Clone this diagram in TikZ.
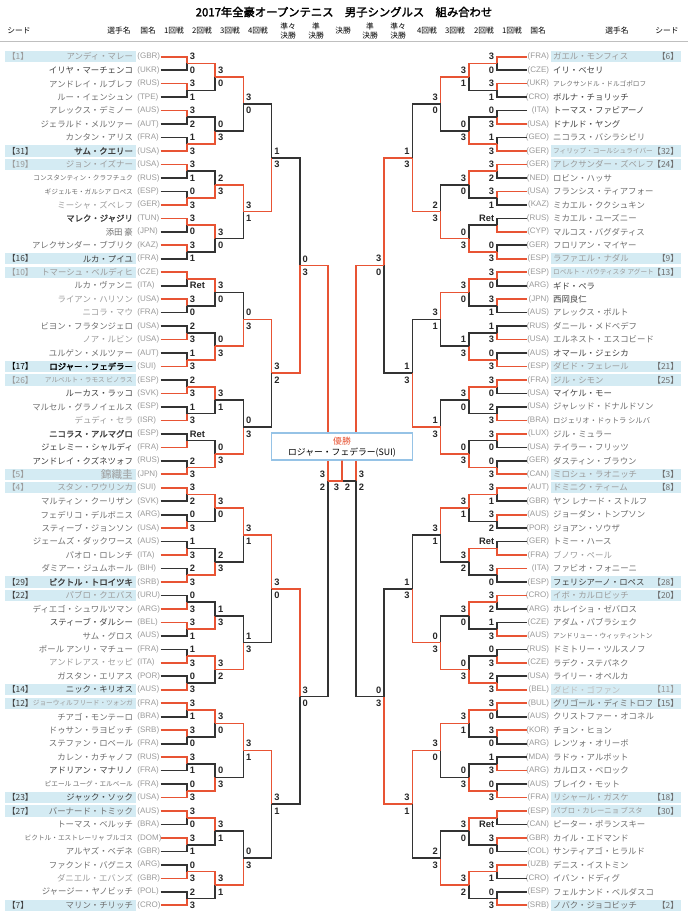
\documentclass[tikz,border=0pt]{standalone}
\usepackage{fontspec}
\setmainfont{Noto Sans CJK JP}[AutoFakeBold=2]
\newfontfamily\latinfont{Liberation Sans}
\usetikzlibrary{calc}

\definecolor{winc}{RGB}{232,84,52}
\definecolor{losec}{RGB}{51,51,51}
\definecolor{seedbg}{RGB}{212,235,243}
\definecolor{boxline}{RGB}{150,195,230}
\definecolor{cd}{RGB}{64,64,64}
\definecolor{cm}{RGB}{110,110,110}
\definecolor{cl}{RGB}{155,155,155}
\definecolor{cx}{RGB}{190,190,190}
\definecolor{ck}{RGB}{0,0,0}

% name sizes: n normal, s small, t tight, b big, k bold
\newcommand{\fszn}{\fontsize{6.3pt}{7pt}\selectfont}
\newcommand{\fszs}{\fontsize{5pt}{6pt}\selectfont}
\newcommand{\fszt}{\fontsize{5.5pt}{6pt}\selectfont}
\newcommand{\fszb}{\fontsize{8pt}{9pt}\selectfont}
\newcommand{\fszk}{\fontsize{6.3pt}{7pt}\selectfont\bfseries}

% one round of one half: side, round, x of the vertical, score anchor, score shift, winner/upper/lower
\newcommand{\drawround}[6]{%
  \foreach \w/\sA/\sB [count=\m] in {#6} {
    \pgfmathtruncatemacro{\pu}{2*\m-1}
    \pgfmathtruncatemacro{\pd}{2*\m}
    \pgfmathtruncatemacro{\pv}{#2-1}
    \pgfmathsetmacro{\ym}{\yA+((\m-1)*2^#2+(2^#2-1)/2)*\dy}
    \coordinate (#1#2-\m) at (#3,\ym);
    \ifnum\w=1 \let\wn\pu\let\ls\pd\else\let\wn\pd\let\ls\pu\fi
    \draw[bline,draw=losec] (#1\pv-\ls) -| (#1#2-\m);
    \draw[bline,draw=winc] (#1\pv-\wn) -| (#1#2-\m);
    \node[score,anchor=#4] (#1#2-\m-u) at ({#3#5},{\ym-6.7}) {\sA};
    \node[score,anchor=#4] (#1#2-\m-d) at ({#3#5},{\ym+6.7}) {\sB};
  }
}

\begin{document}
\begin{tikzpicture}[x=0.75pt,y=-0.75pt,
    bline/.style={line width=1.25pt},
    score/.style={font=\latinfont\bfseries\fontsize{7pt}{8pt}\selectfont,text=black!85,inner sep=0.8pt},
    cty/.style={font=\latinfont\fontsize{6pt}{7pt}\selectfont,text=black!40,inner sep=0.5pt},
    seedtxt/.style={font=\fontsize{6.3pt}{7pt}\selectfont,inner sep=0pt},
    hdr/.style={font=\fontsize{5.8pt}{6.3pt}\selectfont,align=center,inner sep=0pt}]
  \def\yA{56.7}   % y of the first row
  \def\dy{13.47}  % row pitch
  \useasboundingbox (0,0) rectangle (688,914);

  % Title and column heads
  \node[font=\fontsize{8.5pt}{10pt}\selectfont\bfseries] (title) at (344,12)
    {2017年全豪オープンテニス　男子シングルス　組み合わせ};
  \foreach \x/\t [count=\k] in {19/シード,119/選手名,148/国名,174/1回戦,202/2回戦,
      230/3回戦,258/4回戦,288/準々\\決勝,316/準\\決勝,343/決勝,370/準\\決勝,
      398/準々\\決勝,427/4回戦,455/3回戦,484/2回戦,512/1回戦,538/国名,617/選手名,667/シード}
    \node[hdr] (h\k) at (\x,31) {\t};
  \draw[black!25,line width=0.6pt] (0,41) -- (688,41);

  % Seed bars
  \foreach \i/\s/\col in {1/1/cl,8/31/cd,9/19/cl,16/16/cd,17/10/cl,24/17/ck,25/26/cl,32/5/cl,
      33/4/cl,40/29/cd,41/22/cd,48/14/cd,49/12/cd,56/23/cd,57/27/cd,64/7/cd} {
    \pgfmathsetmacro{\y}{\yA+(\i-1)*\dy}
    \fill[seedbg] (5,{\y-5.6}) rectangle (136,{\y+5.6});
    \node[seedtxt,text=\col,anchor=west] (Ls-\i) at (7,\y) {【\s】};
  }
  \foreach \i/\s/\col in {1/6/cm,8/32/cm,9/24/cm,16/9/cm,17/13/cm,24/21/cm,25/25/cm,32/3/cm,
      33/8/cm,40/28/cm,41/20/cm,48/11/cl,49/15/cm,56/18/cm,57/30/cm,64/2/cm} {
    \pgfmathsetmacro{\y}{\yA+(\i-1)*\dy}
    \fill[seedbg] (551,{\y-5.6}) rectangle (681,{\y+5.6});
    \node[seedtxt,text=\col,anchor=east] (Rs-\i) at (679,\y) {【\s】};
  }

  % Players, left half
  \foreach \nm/\ct/\col/\sz [count=\i] in {
      アンディ・マレー/GBR/cl/n, イリヤ・マーチェンコ/UKR/cd/n, アンドレイ・ルブレフ/RUS/cm/n,
      ルー・イェンシュン/TPE/cm/n, アレックス・デミノー/AUS/cm/n, ジェラルド・メルツァー/AUT/cm/n,
      カンタン・アリス/FRA/cm/n, サム・クエリー/USA/cd/k, ジョン・イズナー/USA/cl/n,
      コンスタンティン・クラフチュク/RUS/cm/s, ギジェルモ・ガルシア ロペス/ESP/cm/s,
      ミーシャ・ズベレフ/GER/cl/n, マレク・ジャジリ/TUN/cd/k, 添田 豪/JPN/cm/n,
      アレクサンダー・ブブリク/KAZ/cm/n, ルカ・プイユ/FRA/cd/n, トマーシュ・ベルディヒ/CZE/cl/n,
      ルカ・ヴァンニ/ITA/cm/n, ライアン・ハリソン/USA/cl/n, ニコラ・マウ/FRA/cl/n,
      ビヨン・フラタンジェロ/USA/cm/n, ノア・ルビン/USA/cl/n, ユルゲン・メルツァー/AUT/cm/n,
      ロジャー・フェデラー/SUI/ck/k, アルベルト・ラモス ビノラス/ESP/cl/s, ルーカス・ラッコ/SVK/cd/n,
      マルセル・グラノイェルス/ESP/cm/n, デュディ・セラ/ISR/cl/n, ニコラス・アルマグロ/ESP/cd/k,
      ジェレミー・シャルディ/FRA/cd/n, アンドレイ・クズネツォフ/RUS/cd/n, 錦織圭/JPN/cl/b,
      スタン・ワウリンカ/SUI/cl/n, マルティン・クーリザン/SVK/cm/n, フェデリコ・デルボニス/ARG/cm/n,
      スティーブ・ジョンソン/USA/cm/n, ジェームズ・ダックワース/AUS/cm/n, パオロ・ロレンチ/ITA/cm/n,
      ダミアー・ジュムホール/BIH/cm/n, ビクトル・トロイツキ/SRB/cd/k, パブロ・クエバス/URU/cl/n,
      ディエゴ・シュワルツマン/ARG/cm/n, スティーブ・ダルシー/BEL/cd/n, サム・グロス/AUS/cm/n,
      ポール アンリ・マチュー/FRA/cm/n, アンドレアス・セッピ/ITA/cl/n, ガスタン・エリアス/POR/cm/n,
      ニック・キリオス/AUS/cd/n, ジョーウィルフリード・ツォンガ/FRA/cl/s, チアゴ・モンテーロ/BRA/cm/n,
      ドゥサン・ラヨビッチ/SRB/cm/n, ステファン・ロベール/FRA/cm/n, カレン・カチャノフ/RUS/cm/n,
      アドリアン・マナリノ/FRA/cd/n, ピエール ユーグ・エルベール/FRA/cm/s, ジャック・ソック/USA/cd/n,
      バーナード・トミック/AUS/cm/n, トーマス・ベルッチ/BRA/cm/n,
      ビクトル・エストレーリャ ブルゴス/DOM/cm/s, アルヤズ・ベデネ/GBR/cm/n,
      ファクンド・バグニス/ARG/cm/n, ダニエル・エバンズ/GBR/cl/n, ジャージー・ヤノビッチ/POL/cm/n,
      マリン・チリッチ/CRO/cm/n} {
    \pgfmathsetmacro{\y}{\yA+(\i-1)*\dy}
    \node[anchor=east,inner sep=1pt,text=\col,font=\csname fsz\sz\endcsname] (Ln-\i) at (134.5,\y) {\nm};
    \node[cty,anchor=west] (Lc-\i) at (136.5,\y) {(\ct)};
    \coordinate (L0-\i) at (160.5,\y);
  }

  % Players, right half
  \foreach \nm/\ct/\col/\sz [count=\i] in {
      ガエル・モンフィス/FRA/cl/n, イリ・ベセリ/CZE/cd/n, アレクサンドル・ドルゴポロフ/UKR/cm/s,
      ボルナ・チョリッチ/CRO/cd/n, トーマス・ファビアーノ/ITA/cd/n, ドナルド・ヤング/USA/cd/n,
      ニコラス・バシラシビリ/GEO/cm/n, フィリップ・コールシュライバー/GER/cl/s,
      アレクサンダー・ズベレフ/GER/cl/n, ロビン・ハッサ/NED/cm/n, フランシス・ティアフォー/USA/cm/n,
      ミカエル・ククシュキン/KAZ/cm/n, ミカエル・ユーズニー/RUS/cm/n, マルコス・バグダティス/CYP/cm/n,
      フロリアン・マイヤー/GER/cm/n, ラファエル・ナダル/ESP/cl/n, ロベルト・バウティスタ アグート/ESP/cl/s,
      ギド・ペラ/ARG/cd/n, 西岡良仁/JPN/cd/n, アレックス・ボルト/AUS/cm/n, ダニール・メドベデフ/RUS/cm/n,
      エルネスト・エスコビード/USA/cm/n, オマール・ジェシカ/AUS/cd/n, ダビド・フェレール/ESP/cl/n,
      ジル・シモン/FRA/cl/n, マイケル・モー/USA/cd/n, ジャレッド・ドナルドソン/USA/cm/n,
      ロジェリオ・ドゥトラ シルバ/BRA/cm/t, ジル・ミュラー/LUX/cm/n, テイラー・フリッツ/USA/cm/n,
      ダスティン・ブラウン/GER/cm/n, ミロシュ・ラオニッチ/CAN/cl/n, ドミニク・ティーム/AUT/cl/n,
      ヤン レナード・ストルフ/GBR/cm/n, ジョーダン・トンプソン/AUS/cm/n, ジョアン・ソウザ/POR/cm/n,
      トミー・ハース/GER/cm/n, ブノワ・ペール/FRA/cl/n, ファビオ・フォニーニ/ITA/cm/n,
      フェリシアーノ・ロペス/ESP/cd/n, イボ・カルロビッチ/CRO/cl/n, ホレイショ・ゼバロス/ARG/cm/n,
      アダム・パブラシェク/CZE/cm/n, アンドリュー・ウィッティントン/AUS/cm/s, ドミトリー・ツルスノフ/RUS/cm/n,
      ラデク・ステパネク/CZE/cm/n, ライリー・オペルカ/USA/cm/n, ダビド・ゴファン/BEL/cx/n,
      グリゴール・ディミトロフ/BUL/cm/n, クリストファー・オコネル/AUS/cm/n, チョン・ヒョン/KOR/cm/n,
      レンツォ・オリーボ/ARG/cm/n, ラドゥ・アルボット/MDA/cm/n, カルロス・ベロック/ARG/cm/n,
      ブレイク・モット/AUS/cm/n, リシャール・ガスケ/FRA/cl/n, パブロ・カレーニョ ブスタ/ESP/cl/t,
      ピーター・ポランスキー/CAN/cm/n, カイル・エドマンド/GBR/cm/n, サンティアゴ・ヒラルド/COL/cm/n,
      デニス・イストミン/UZB/cm/n, イバン・ドディグ/CRO/cm/n, フェルナンド・ベルダスコ/ESP/cm/n,
      ノバク・ジョコビッチ/SRB/cm/n} {
    \pgfmathsetmacro{\y}{\yA+(\i-1)*\dy}
    \node[anchor=west,inner sep=1pt,text=\col,font=\csname fsz\sz\endcsname] (Rn-\i) at (551.5,\y) {\nm};
    \node[cty,anchor=east] (Rc-\i) at (550,\y) {(\ct)};
    \coordinate (R0-\i) at (527,\y);
  }

  % Rounds, left half
  \drawround{L}{1}{187}{west}{+1.5}{1/3/0,1/3/1,1/3/2,2/1/3,1/3/1,2/0/3,1/3/0,1/3/1,
      1/{}/Ret,1/3/0,2/2/3,2/1/3,2/2/3,2/1/3,2/Ret/{},2/2/3,
      1/3/2,2/0/3,2/1/3,2/2/3,2/0/3,1/3/1,2/1/3,2/0/3,
      1/3/1,1/3/0,1/3/1,2/0/3,1/3/0,1/3/1,2/0/3,2/2/3}
  \drawround{L}{2}{215.2}{west}{+1.5}{1/3/0,2/0/3,2/2/3,1/3/0,1/3/0,2/0/3,1/3/1,2/0/3,
      1/3/0,2/2/3,2/1/3,1/3/2,1/3/0,2/0/3,1/3/1,1/3/1}
  \drawround{L}{3}{243.4}{west}{+1.5}{1/3/0,1/3/1,2/0/3,2/0/3,1/3/1,2/1/3,1/3/1,2/0/3}
  \drawround{L}{4}{271.6}{west}{+1.5}{2/1/3,1/3/2,1/3/0,1/3/1}
  \drawround{L}{5}{299.8}{west}{+1.5}{2/0/3,1/3/0}
  \drawround{L}{6}{328}{east}{-1.5}{1/3/2}

  % Rounds, right half
  \drawround{R}{1}{497}{east}{-1.5}{1/3/0,1/3/1,2/0/3,2/1/3,1/3/2,1/3/1,2/Ret/{},2/0/3,
      1/3/0,1/3/1,2/1/3,2/0/3,1/3/0,2/2/3,1/3/0,2/0/3,
      1/3/1,1/3/2,2/Ret/{},1/3/0,1/3/2,2/1/3,2/0/3,2/2/3,
      1/3/0,1/3/0,2/1/3,2/0/3,1/{}/Ret,1/3/0,1/3/1,2/0/3}
  \drawround{R}{2}{468.8}{east}{-1.5}{1/3/1,2/0/3,1/3/0,2/0/3,1/3/0,2/1/3,1/3/0,2/0/3,
      1/3/1,1/3/2,1/3/0,2/0/3,1/3/1,2/0/3,1/3/0,1/3/2}
  \drawround{R}{3}{440.6}{east}{-1.5}{1/3/0,2/2/3,1/3/1,2/1/3,1/3/1,2/0/3,1/3/0,2/2/3}
  \drawround{R}{4}{412.4}{east}{-1.5}{2/1/3,2/1/3,2/1/3,1/3/1}
  \drawround{R}{5}{384.2}{east}{-1.5}{1/3/0,2/0/3}
  \drawround{R}{6}{356}{west}{+1.5}{1/3/2}

  % Winner box and final
  \node[draw=boxline,fill=white,line width=0.8pt,minimum width=105.75pt,minimum height=20.25pt,
        inner sep=0pt] (champ) at (342,446.5) {};
  \node[font=\fontsize{6.6pt}{7pt}\selectfont,text=winc,inner sep=0pt] (champ-t) at (342,441) {優勝};
  \node[font=\fontsize{6.6pt}{7pt}\selectfont,inner sep=0pt] (champ-n) at (342,453)
    {ロジャー・フェデラー(SUI)};
  \coordinate (F) at (342,481);
  \draw[bline,draw=losec] (R6-1) -- (F);
  \draw[bline,draw=winc] (L6-1) -- (F) -- (champ.south);
  \node[score,anchor=east] (F-l) at (340.5,487.7) {3};
  \node[score,anchor=west] (F-r) at (343.5,487.7) {2};
\end{tikzpicture}
\end{document}
